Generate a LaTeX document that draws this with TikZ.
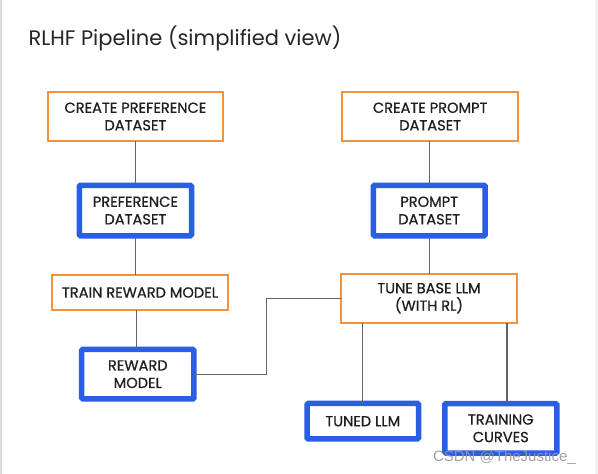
\documentclass[tikz,border=0pt]{standalone}
\usepackage{fontspec}
\setmainfont{Poppins}
\newfontfamily\boxfont{Poppins}[FakeBold=0.7]
\newfontfamily\wmfont{Liberation Sans}
\definecolor{boxorange}{RGB}{240,146,62}
\definecolor{boxblue}{RGB}{42,94,228}
\definecolor{linegray}{RGB}{100,100,100}
\begin{document}
\begin{tikzpicture}[x=1pt,y=-1pt,
  every node/.style={inner sep=0pt, outer sep=0pt},
  labeltext/.style={font=\boxfont\fontsize{14.6}{17.5}\selectfont, text=black!88, align=center},
  taskbox/.style={labeltext, draw=boxorange, line width=2pt, fill=white},
  databox/.style={labeltext, draw=boxblue, line width=5.5pt, rounded corners=1.2pt, fill=white},
  conn/.style={draw=linegray, line width=1.2pt}
]
\useasboundingbox (0,0) rectangle (598,474);
\fill[white] (0,0) rectangle (598,474);
\fill[black!14] (0,0) rectangle (2.2,474);
\fill[black!5] (595,0) rectangle (598,474);

\node[anchor=base west, font=\fontsize{21}{25}\selectfont, text=black!85] (title) at (28.5,45) {RLHF Pipeline (simplified view)};

\node[taskbox, minimum width=175.6pt, minimum height=49.6pt] (cpd) at (135.4,116.5) {CREATE PREFERENCE\\DATASET};
\node[taskbox, minimum width=176.3pt, minimum height=49.6pt] (cprd) at (430.2,116.5) {CREATE PROMPT\\DATASET};
\node[databox, minimum width=112.3pt, minimum height=50.5pt] (pd) at (135.4,210.5) {PREFERENCE\\DATASET};
\node[databox, minimum width=111.8pt, minimum height=50.5pt] (prd) at (429.2,210.5) {PROMPT\\DATASET};
\node[taskbox, minimum width=176.4pt, minimum height=35pt] (trm) at (140,292.5) {TRAIN REWARD MODEL};
\node[taskbox, minimum width=176.8pt, minimum height=49pt] (tune) at (429,298.2) {TUNE BASE LLM\\(WITH RL)};
\node[databox, minimum width=112.2pt, minimum height=49.5pt] (rm) at (137.8,374.2) {REWARD\\MODEL};
\node[databox, minimum width=111.5pt, minimum height=35.5pt] (tllm) at (362.8,421.2) {TUNED LLM};
\node[databox, minimum width=112.1pt, minimum height=49.5pt] (tc) at (500.8,428.3) {TRAINING\\CURVES};

\coordinate (bend) at (266.7,298.2);

\draw[conn] (cpd.south) -- (pd.north);
\draw[conn] (cprd.south -| prd.north) -- (prd.north);
\draw[conn] (pd.south) -- (pd.south |- trm.north);
\draw[conn] ([xshift=-1.1pt]rm.north |- trm.south) -- ([xshift=-1.1pt]rm.north);
\draw[conn] (prd.south) -- (prd.south |- tune.north);
\draw[conn] (tune.west) -- (bend) |- (rm.east);
\draw[conn] (tllm.north |- tune.south) -- (tllm.north);
\draw[conn] ([xshift=6.1pt]tc.north |- tune.south) -- ([xshift=6.1pt]tc.north);

\node[anchor=base west, font=\wmfont\fontsize{15}{18}\selectfont, text=black!40, opacity=0.9] (wm) at (433,461.5) {CSDN @TheJustice\_};
\end{tikzpicture}
\end{document}
